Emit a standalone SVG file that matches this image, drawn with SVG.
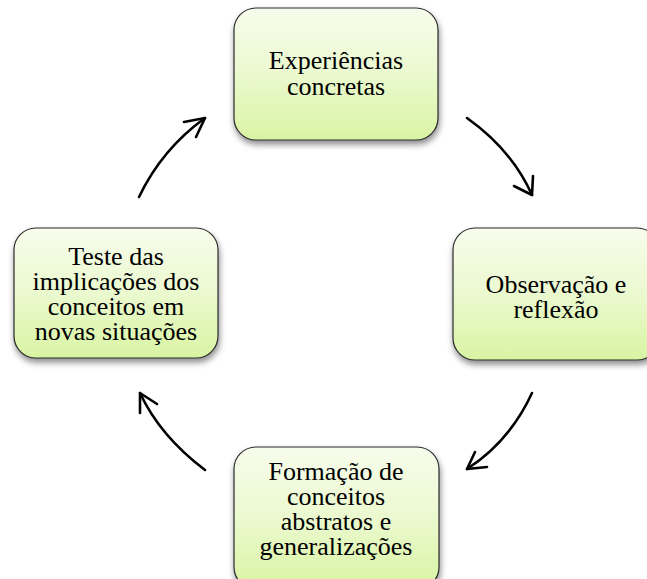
<svg xmlns="http://www.w3.org/2000/svg" width="647" height="579" viewBox="0 0 647 579">
  <defs>
    <linearGradient id="g" x1="0" y1="0" x2="0" y2="1">
      <stop offset="0" stop-color="#f7fcec"/>
      <stop offset="0.5" stop-color="#ebf9cf"/>
      <stop offset="1" stop-color="#d9f4a3"/>
    </linearGradient>
    <filter id="sh" x="-10%" y="-10%" width="130%" height="130%">
      <feDropShadow dx="1" dy="4" stdDeviation="3" flood-color="#000" flood-opacity="0.45"/>
    </filter>
  </defs>
  <style>
    .box { fill: url(#g); stroke: #2b2b2b; stroke-width: 1.2; filter: url(#sh); }
    .lbl { font-family: "Liberation Serif", "Times New Roman", serif; font-size: 26px; fill: #000; text-anchor: middle; }
    .arr { fill: none; stroke: #000; stroke-width: 2.6; stroke-linecap: round; stroke-linejoin: round; }
  </style>
  <rect width="647" height="579" fill="#fff"/>

  <g id="connectors">
    <path class="arr" d="M467,118 Q512,150 532,195"/>
    <path class="arr" d="M514,186 L532,195 L533,176"/>
    <path class="arr" d="M532,393 Q510,441 467,469"/>
    <path class="arr" d="M475,452 L467,469 L487,467"/>
    <path class="arr" d="M205,470 Q160,436 140,393"/>
    <path class="arr" d="M140,413 L140,393 L157,404"/>
    <path class="arr" d="M139,197 Q162,149 205,118"/>
    <path class="arr" d="M184,122 L205,118 L196,137"/>
  </g>

  <g id="node-experiencias">
    <rect class="box" x="234" y="8" width="204" height="132" rx="22"/>
    <text class="lbl" x="336" y="69">Experiências</text>
    <text class="lbl" x="336" y="95">concretas</text>
  </g>

  <g id="node-observacao">
    <rect class="box" x="453" y="228" width="206" height="132" rx="22"/>
    <text class="lbl" x="556" y="293">Observação e</text>
    <text class="lbl" x="556" y="318">reflexão</text>
  </g>

  <g id="node-formacao">
    <rect class="box" x="234" y="447" width="205" height="142" rx="22"/>
    <text class="lbl" x="336" y="480">Formação de</text>
    <text class="lbl" x="336" y="505">conceitos</text>
    <text class="lbl" x="336" y="530">abstratos e</text>
    <text class="lbl" x="336" y="555">generalizações</text>
  </g>

  <g id="node-teste">
    <rect class="box" x="14" y="228" width="204" height="130" rx="22"/>
    <text class="lbl" x="116" y="265">Teste das</text>
    <text class="lbl" x="116" y="290">implicações dos</text>
    <text class="lbl" x="116" y="315">conceitos em</text>
    <text class="lbl" x="116" y="340">novas situações</text>
  </g>
</svg>
